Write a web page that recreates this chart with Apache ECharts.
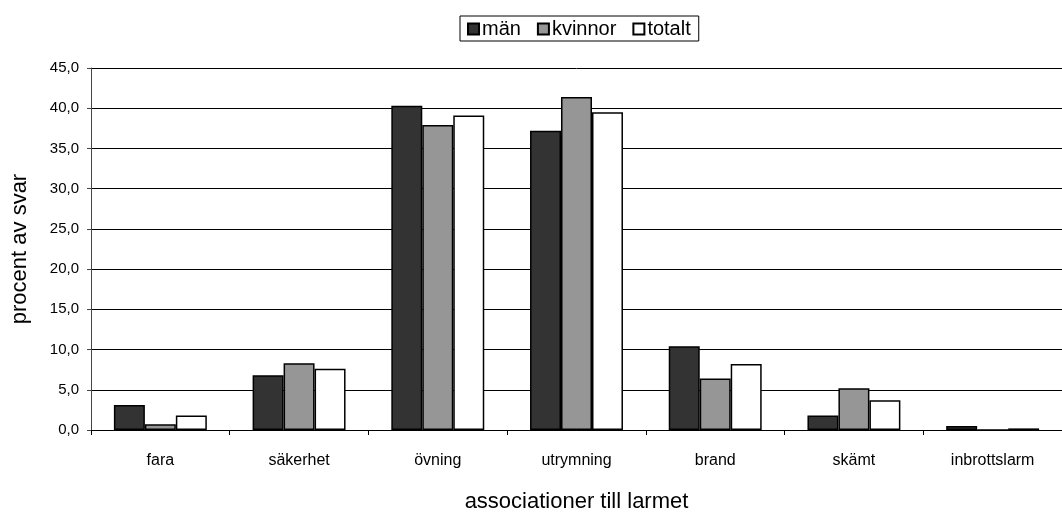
<!DOCTYPE html>
<html><head><meta charset="utf-8">
<script src="https://cdn.jsdelivr.net/npm/echarts@6/dist/echarts.min.js"></script>
<style>html,body{margin:0;padding:0;background:#fff}#c{width:1062px;height:518px}</style>
</head><body><div id="c"></div>
<script>
const categories = ['fara','säkerhet','övning','utrymning','brand','skämt','inbrottslarm'];
const man = [3.1, 6.8, 40.3, 37.2, 10.4, 1.8, 0.5];
const kvinnor = [0.7, 8.3, 37.9, 41.4, 6.4, 5.2, 0.0];
const totalt = [1.8, 7.6, 39.1, 39.5, 8.2, 3.7, 0.2];
const seriesNames = ['män','kvinnor','totalt'];
const colors = ['#333333','#969696','#ffffff'];

const chart = echarts.init(document.getElementById('c'), null, {renderer:'canvas'});
const font = 'Liberation Sans, Arial, sans-serif';
chart.setOption({
  animation:false,
  textStyle:{fontFamily:font},
  legend:{
    top:16, left:460,
    data: seriesNames,
    icon:'rect', itemWidth:11, itemHeight:11, itemGap:16,
    borderColor:'#000', borderWidth:1, padding:[3,8,2,7],
    textStyle:{fontSize:20, color:'#000', fontFamily:font, padding:[0,0,0,-2]}
  },
  grid:{left:91, right:0, top:68, bottom:88, containLabel:false},
  xAxis:{
    type:'category', data:categories,
    name:'associationer till larmet', nameLocation:'middle', nameGap:61,
    nameTextStyle:{fontSize:22, color:'#000', fontFamily:font},
    axisLine:{lineStyle:{color:'#000', width:1}},
    axisTick:{show:true, length:5, lineStyle:{color:'#000'}, alignWithLabel:false},
    axisLabel:{fontSize:16, color:'#000', margin:23, fontFamily:font}
  },
  yAxis:{
    type:'value', min:0, max:45, interval:5,
    name:'procent av svar', nameLocation:'middle', nameGap:60,
    nameTextStyle:{fontSize:22, color:'#000', fontFamily:font},
    axisLine:{show:true, lineStyle:{color:'#444', width:1}},
    axisTick:{show:true, length:4, lineStyle:{color:'#444'}},
    axisLabel:{fontSize:15, color:'#000', margin:12, fontFamily:font,
      formatter:v=>v.toFixed(1).replace('.',',')},
    splitLine:{show:true, lineStyle:{color:'#000', width:1}}
  },
  series:[man,kvinnor,totalt].map((d,i)=>({
    name:seriesNames[i], type:'bar', data:d,
    barGap:'0%', barCategoryGap:'33%',
    itemStyle:{color:colors[i], borderColor:'#000', borderWidth:1.5}
  }))
});
</script></body></html>
